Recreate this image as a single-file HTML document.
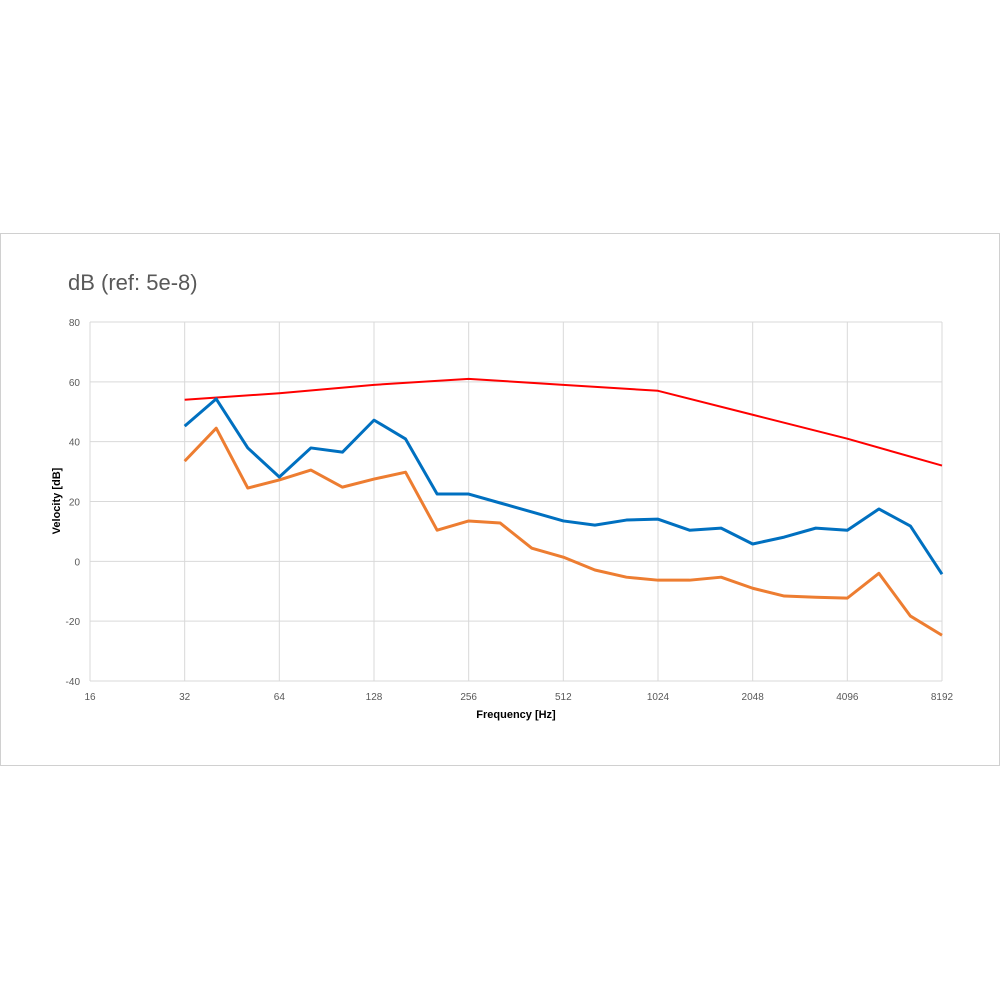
<!DOCTYPE html>
<html><head><meta charset="utf-8"><style>
body{margin:0;background:#fff;font-family:"Liberation Sans",Arial,sans-serif}
</style></head><body>
<svg width="1000" height="1000" xmlns="http://www.w3.org/2000/svg">
<rect x="0.5" y="233.5" width="999" height="532" fill="#fff" stroke="#d0d0d0"/>
<text x="68" y="290" font-size="22" fill="#595959">dB (ref: 5e-8)</text>
<g id="grid"></g>
<g id="ticks"></g>
<g id="series"></g>
<text x="516" y="718" font-size="11" font-weight="bold" text-anchor="middle" fill="#000">Frequency [Hz]</text>
<text x="0" y="0" font-size="11" font-weight="bold" text-anchor="middle" fill="#000" transform="translate(60,501) rotate(-90)">Velocity [dB]</text>
</svg>
<script>
const xTicks=[16,32,64,128,256,512,1024,2048,4096,8192];
const yTicks=[-40,-20,0,20,40,60,80];
const blue=[45.2,54.3,37.9,28.2,37.9,36.5,47.2,40.9,22.5,22.5,19.5,16.5,13.5,12.1,13.8,14.1,10.4,11.1,5.8,8.1,11.1,10.4,17.5,11.8,-4.3];
const orange=[33.5,44.5,24.5,27.2,30.5,24.8,27.5,29.8,10.4,13.5,12.8,4.4,1.4,-2.9,-5.3,-6.3,-6.3,-5.3,-9,-11.6,-12,-12.3,-4,-18.3,-24.7];
const redFreq=[32,64,128,256,512,1024,2048,4096,8192];
const red=[54,56.2,59,61,59,57,49,41,32];
const NS="http://www.w3.org/2000/svg";
const X0=90,X1=942,Y0=681,Y1=322;
const xs=f=>X0+(Math.log2(f)-4)/9*(X1-X0);
const ys=v=>Y0-(v+40)/120*(Y0-Y1);
function mk(t,a,p){const e=document.createElementNS(NS,t);for(const k in a)e.setAttribute(k,a[k]);p.appendChild(e);return e;}
const g=document.getElementById('grid'),tk=document.getElementById('ticks'),s=document.getElementById('series');
yTicks.forEach(v=>{const l=mk('line',{x1:X0,x2:X1,y1:ys(v),y2:ys(v),stroke:'#d9d9d9','stroke-width':1},g);


const t=mk('text',{x:X0-10,y:ys(v)+4,'font-size':10,'text-anchor':'end',fill:'#595959'},tk);t.textContent=v;

});
xTicks.forEach(f=>{const l=mk('line',{x1:xs(f),x2:xs(f),y1:Y1,y2:Y0,stroke:'#d9d9d9','stroke-width':1},g);


const t=mk('text',{x:xs(f),y:Y0+19,'font-size':10,'text-anchor':'middle',fill:'#595959'},tk);t.textContent=f;

});
function line(fr,vals,col,w,name){const p=mk('polyline',{points:vals.map((v,i)=>xs(fr[i])+','+ys(v)).join(' '),fill:'none',stroke:col,'stroke-width':w,'stroke-linejoin':'round'},s);

}
const third=blue.map((_,i)=>32*Math.pow(2,i/3));
line(redFreq,red,'#ff0000',2,'red-series');
line(third,orange,'#ed7d31',3,'orange-series');
line(third,blue,'#0070c0',3,'blue-series');
</script>
</body></html>
